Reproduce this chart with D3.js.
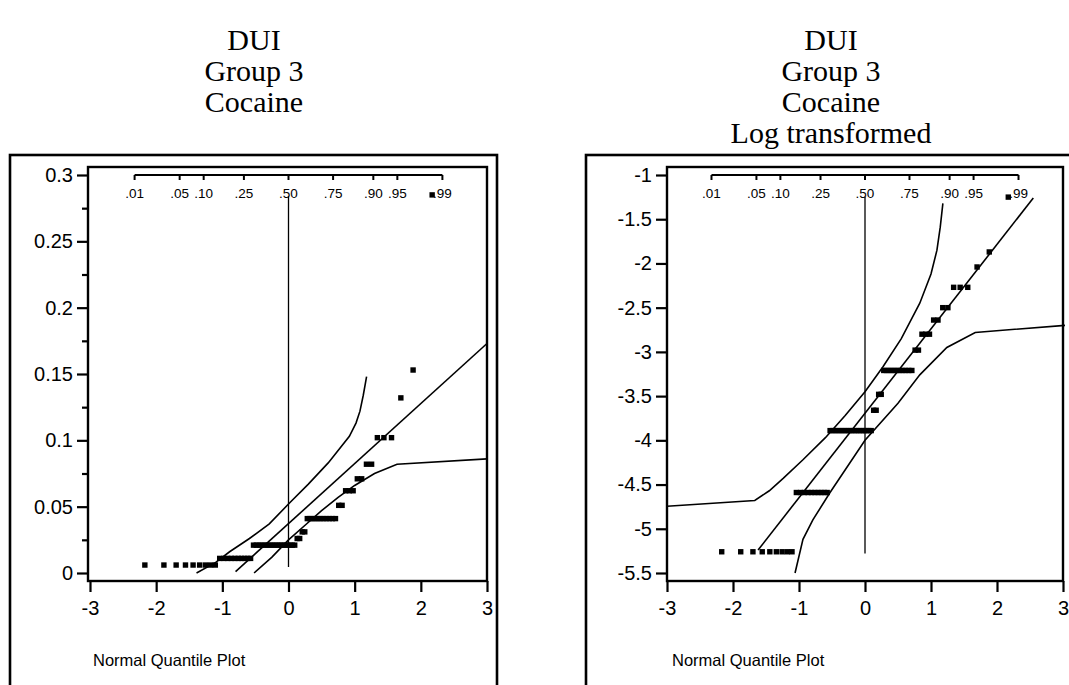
<!DOCTYPE html>
<html><head><meta charset="utf-8">
<script src="https://cdn.jsdelivr.net/npm/d3@7"></script>
<style>body{margin:0;background:#fff}</style>
</head><body>
<svg id="c" width="1069" height="685" xmlns="http://www.w3.org/2000/svg"></svg>
<script>
// ---------------- data ----------------
const titleLeft = ["DUI", "Group 3", "Cocaine"];
const titleRight = ["DUI", "Group 3", "Cocaine", "Log transformed"];
const footLabel = "Normal Quantile Plot";
const xTicks = [-3, -2, -1, 0, 1, 2, 3];
const yTicksLeft = [0, 0.05, 0.1, 0.15, 0.2, 0.25, 0.3];
const yMinorLeft = [0.025, 0.075, 0.125, 0.175, 0.225, 0.275];
const yTicksRight = [-5.5, -5, -4.5, -4, -3.5, -3, -2.5, -2, -1.5, -1];
const probLabels = [".01", ".05", ".10", ".25", ".50", ".75", ".90", ".95", ".99"];
const probZ = [-2.326, -1.645, -1.282, -0.674, 0, 0.674, 1.282, 1.645, 2.326];

const quantiles = [
  -2.171, -1.883, -1.698, -1.557, -1.442, -1.343, -1.256, -1.178, -1.106,
  -1.040, -0.977, -0.919, -0.863, -0.810, -0.759, -0.710, -0.663, -0.617, -0.573,
  -0.529, -0.486, -0.445, -0.404, -0.363, -0.324, -0.284, -0.246, -0.207, -0.169,
  -0.131, -0.094, -0.056, -0.019, 0.019, 0.056, 0.094,
  0.131, 0.169, 0.207, 0.246,
  0.284, 0.324, 0.363, 0.404, 0.445, 0.486, 0.529, 0.573, 0.617, 0.663, 0.710,
  0.759, 0.810, 0.863, 0.919, 0.977, 1.040, 1.106, 1.178, 1.256,
  1.343, 1.442, 1.557, 1.698, 1.883, 2.171
];
// distinct observed values and how many observations share each
const levelsRaw = [0.006, 0.011, 0.021, 0.026, 0.031, 0.041, 0.051, 0.062, 0.071, 0.082, 0.102, 0.132, 0.153, 0.285];
const levelsLog = [-5.26, -4.59, -3.89, -3.66, -3.48, -3.21, -2.98, -2.80, -2.64, -2.50, -2.27, -2.04, -1.87, -1.25];
const levelCounts = [9, 10, 17, 2, 2, 11, 2, 3, 2, 2, 3, 1, 1, 1];

// fitted line and confidence curves, [quantile, value]
const fitLeft = [[-0.8, 0.001], [3, 0.173]];
const upperLeft = [[-1.39, 0], [-1.1, 0.008], [-0.89, 0.016], [-0.59, 0.026], [-0.29, 0.037], [0, 0.052],
  [0.3, 0.067], [0.6, 0.083], [0.92, 0.103], [1.02, 0.113], [1.08, 0.122], [1.13, 0.134], [1.18, 0.148]];
const lowerLeft = [[-0.52, 0], [-0.25, 0.012], [0, 0.025], [0.25, 0.036], [0.5, 0.047], [0.75, 0.057],
  [1.0, 0.066], [1.3, 0.075], [1.64, 0.082], [3, 0.086]];
const fitRight = [[-1.62, -5.24], [2.55, -1.26]];
const upperRight = [[-3, -4.745], [-1.67, -4.68], [-1.45, -4.57], [-1.24, -4.43], [-0.94, -4.22], [-0.6, -3.97],
  [-0.3, -3.72], [0, -3.45], [0.27, -3.17], [0.55, -2.85], [0.83, -2.45], [1.0, -2.12], [1.09, -1.85],
  [1.14, -1.59], [1.18, -1.32]];
const lowerRight = [[-1.06, -5.5], [-0.94, -5.12], [-0.79, -4.9], [-0.53, -4.59], [0, -4.0], [0.5, -3.58],
  [0.83, -3.26], [1.24, -2.95], [1.67, -2.78], [3.03, -2.70]];

// ---------------- drawing ----------------
const svg = d3.select("#c");
const SANS = "'Liberation Sans', Arial, Helvetica, sans-serif";
const SERIF = "'Liberation Serif', 'Times New Roman', serif";

function expand(levels) {
  const out = [];
  levels.forEach((v, i) => { for (let k = 0; k < levelCounts[i]; k++) out.push(v); });
  return out.map((v, i) => ({ q: quantiles[i], v }));
}

function drawPanel(p) {
  const g = svg.append("g");
  g.append("rect").attr("x", p.outer[0]).attr("y", p.outer[1]).attr("width", p.outer[2]).attr("height", p.outer[3])
    .attr("fill", "none").attr("stroke", "#000").attr("stroke-width", 2.6);
  p.title.forEach((s, i) => {
    g.append("text").attr("x", p.titleX).attr("y", p.titleY + i * p.titleStep)
      .attr("text-anchor", "middle").attr("font-family", SERIF).attr("font-size", p.titleSize)
      .attr("fill", "#000").text(s);
  });
  const x = d3.scaleLinear().domain([-3, 3]).range(p.xr);
  const y = d3.scaleLinear().domain(p.yd).range(p.yr);
  const [ix0, iy0, ix1, iy1] = p.inner;
  g.append("rect").attr("x", ix0).attr("y", iy0).attr("width", ix1 - ix0).attr("height", iy1 - iy0)
    .attr("fill", "none").attr("stroke", "#000").attr("stroke-width", 2.4);
  g.append("g").attr("transform", `translate(${ix0},0)`)
    .call(d3.axisLeft(y).tickValues(p.yTicks).tickSize(11).tickPadding(4).tickFormat(d => String(d)))
    .call(s => s.select(".domain").remove())
    .call(s => s.selectAll("line").attr("stroke", "#000").attr("stroke-width", 2.2))
    .call(s => s.selectAll("text").attr("font-family", SANS).attr("font-size", 20).attr("fill", "#000"));
  if (p.yMinor) {
    g.append("g").attr("transform", `translate(${ix0},0)`)
      .call(d3.axisLeft(y).tickValues(p.yMinor).tickSize(6).tickFormat(""))
      .call(s => s.select(".domain").remove())
      .call(s => s.selectAll("line").attr("stroke", "#000").attr("stroke-width", 2.2));
  }
  g.append("g").attr("transform", `translate(0,${iy1})`)
    .call(d3.axisBottom(x).tickValues(xTicks).tickSize(11).tickPadding(9).tickFormat(d => String(d)))
    .call(s => s.select(".domain").remove())
    .call(s => s.selectAll("line").attr("stroke", "#000").attr("stroke-width", 2.2))
    .call(s => s.selectAll("text").attr("font-family", SANS).attr("font-size", 20).attr("fill", "#000"));
  const ty = y(p.yd[1]);
  const pg = g.append("g");
  pg.append("line").attr("x1", x(probZ[0])).attr("x2", x(probZ[probZ.length - 1]))
    .attr("y1", ty).attr("y2", ty).attr("stroke", "#000").attr("stroke-width", 2.2);
  pg.selectAll("line.pt").data(probZ).join("line").attr("class", "pt")
    .attr("x1", d => x(d)).attr("x2", d => x(d)).attr("y1", ty).attr("y2", ty + 5)
    .attr("stroke", "#000").attr("stroke-width", 2);
  pg.selectAll("text").data(probLabels).join("text")
    .attr("x", (d, i) => x(probZ[i])).attr("y", ty + 23).attr("text-anchor", "middle")
    .attr("font-family", SANS).attr("font-size", 13.5).attr("fill", "#000").text(d => d);
  g.append("line").attr("x1", x(0)).attr("x2", x(0)).attr("y1", y(p.zeroLine[0])).attr("y2", y(p.zeroLine[1]))
    .attr("stroke", "#000").attr("stroke-width", 1.3);
  const line = d3.line().x(d => x(d[0])).y(d => y(d[1]));
  [p.fit, p.upper, p.lower].forEach(arr => {
    g.append("path").attr("d", line(arr)).attr("fill", "none").attr("stroke", "#000").attr("stroke-width", 1.6);
  });
  g.selectAll("rect.pt").data(p.points).join("rect").attr("class", "pt")
    .attr("x", d => x(d.q) - 2.7).attr("y", d => y(d.v) - 2.7).attr("width", 5.4).attr("height", 5.4)
    .attr("fill", "#000");
  g.append("text").attr("x", ix0 + 5).attr("y", 666).attr("font-family", SANS).attr("font-size", 16.5)
    .attr("fill", "#000").text(footLabel);
}

drawPanel({
  outer: [10, 155, 487, 532], title: titleLeft, titleX: 254, titleY: 50, titleStep: 31, titleSize: 30,
  xr: [90, 487], yd: [0, 0.3], yr: [573, 175], inner: [88, 167, 487, 581],
  yTicks: yTicksLeft, yMinor: yMinorLeft, zeroLine: [0.284, 0.0045],
  fit: fitLeft, upper: upperLeft, lower: lowerLeft, points: expand(levelsRaw)
});
drawPanel({
  outer: [586, 155, 487, 532], title: titleRight, titleX: 831, titleY: 50, titleStep: 31, titleSize: 30,
  xr: [667, 1063], yd: [-5.5, -1], yr: [573, 175], inner: [667, 167, 1063, 581],
  yTicks: yTicksRight, yMinor: null, zeroLine: [-1.25, -5.28],
  fit: fitRight, upper: upperRight, lower: lowerRight, points: expand(levelsLog)
});
</script>
</body></html>
